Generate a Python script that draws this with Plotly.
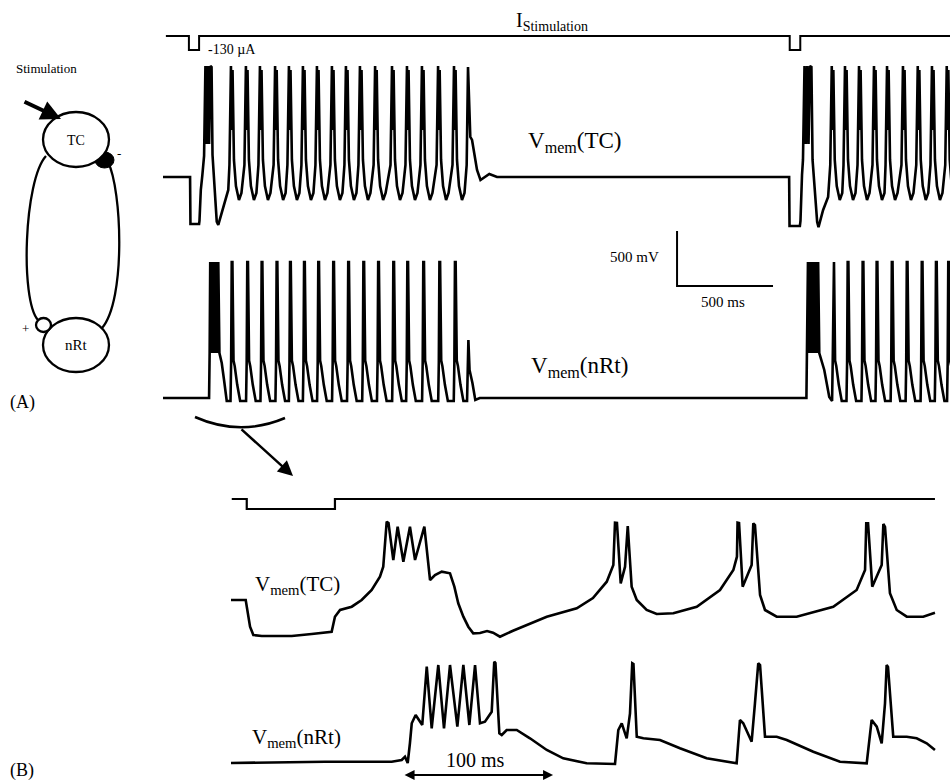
import plotly.graph_objects as go

W, H = 950, 783
FONT = "Liberation Serif"

# ================= DATA =================
# ---- Panel A: time in ms, membrane voltage in mV, current in µA ----
STIM_A_T = [15, 135, 135, 188, 188, 3265, 3265, 3320, 3320, 4100]
STIM_A_I = [0, 0, -130, -130, 0, 0, -130, -130, 0, 0]

# TC, first stimulation event
TC_A_ON1_T = [0, 141, 143, 188, 190, 197, 205, 214]
TC_A_ON1_V = [0, 0, -427, -427, -400, -118, 18, 191]
TC_A_BURST1_T = [221, 227, 234, 240, 247, 253]
TC_A_BURST1_V = [1009, 300, 1009, 300, 1009, 1000]
TC_A_AFT1_T = [258, 280, 288, 314, 340]
TC_A_AFT1_V = [200, -406, -436, -270, -118]
TC_A_SPIKES1 = [354, 432, 505, 584, 656, 729, 802, 880, 953, 1026,
                1105, 1193, 1271, 1349, 1433, 1516]
TC_A_END1_T = [1582, 1589, 1601, 1610, 1636, 1654, 1700, 1740, 3262]
TC_A_END1_V = [109, 1000, 364, 337, 64, -27, 27, 0, 0]
# TC, second stimulation event
TC_A_ON2_T = [3264, 3318, 3321, 3329, 3334]
TC_A_ON2_V = [-445, -445, -400, 18, 155]
TC_A_BURST2_T = [3342, 3349, 3356, 3363, 3370, 3378]
TC_A_BURST2_V = [1009, 300, 1009, 300, 1009, 1000]
TC_A_AFT2_T = [3384, 3408, 3415, 3439, 3465]
TC_A_AFT2_V = [155, -409, -455, -300, -182]
TC_A_SPIKES2 = [3484, 3553, 3626, 3704, 3772, 3855, 3932, 4006, 4083]
# shape of one TC doublet (offset ms, mV)
TC_DOUBLET_DT = [-7.8, 0, 4.2, 8.3, 15.6, 26, 41.7, 54.7]
TC_DOUBLET_DV = [109, 1009, 427, 973, 155, -82, -209, -145]

# nRt, first event
NRT_A_ON1_T = [0, 240, 243]
NRT_A_ON1_V = [0, 0, 409]
NRT_A_BURST1_T = [246, 251, 257, 262, 267, 272, 278, 283, 288]
NRT_A_BURST1_V = [1236, 409, 1236, 409, 1236, 409, 1236, 409, 1236]
NRT_A_AFT1_T = [294, 306, 318, 332]
NRT_A_AFT1_V = [409, 318, 164, -27]
NRT_A_SPIKES1 = [358, 439, 514, 592, 662, 735, 809, 887, 965, 1044,
                 1121, 1200, 1273, 1356, 1440, 1521]
NRT_A_END1_T = [1584, 1588, 1591, 1597, 1612, 1627, 1650, 3352]
NRT_A_END1_V = [-27, 200, 527, 255, 136, -18, 0, 0]
# nRt, second event
NRT_A_ON2_T = [3355]
NRT_A_ON2_V = [409]
NRT_A_BURST2_T = [3360, 3365, 3371, 3376, 3381, 3386, 3392, 3397, 3402, 3407, 3413]
NRT_A_BURST2_V = [1236, 409, 1236, 409, 1236, 409, 1236, 409, 1236, 409, 1236]
NRT_A_AFT2_T = [3419, 3445, 3471]
NRT_A_AFT2_V = [409, 255, 9]
NRT_A_SPIKES2 = [3492, 3567, 3645, 3718, 3797, 3875, 3953, 4027, 4091]
NRT_SPIKE_DT = [-6.3, -3.1, 0, 3.6, 9.4, 15.6, 28.7, 44]
NRT_SPIKE_DV = [-27, 320, 1236, 1236, 340, 290, 120, -27]

# scale bar (ms, mV)
SCALE_T0, SCALE_V0 = 2678, 1018
SCALE_DT, SCALE_DV = 500, 500

# ---- Panel B (zoom of the first event) ----
STIM_B_T = [0.5, 10.5, 10.5, 69.3, 69.3, 469.3]
STIM_B_I = [0, 0, -130, -130, 0, 0]

TC_B_T = [0, 9.8, 12.7, 14.9, 20.5, 40.5, 53.8, 67.1, 69.3, 72.7, 80.5, 87.1,
          93.8, 99.3, 101.5, 103.8, 105, 108.2, 111.1, 114.9, 119.3, 122.7,
          128.9, 132.7, 136, 140.5, 146, 148.9, 151.5, 154.9, 158.2, 161.5,
          166, 170.7, 174.7, 179.3, 188, 210.5, 230.5, 241.3, 250.5, 254.9,
          256, 257.3, 259.8, 262.7, 264.5, 267.1, 270.5, 277.1, 283.8, 294.9,
          310.5, 326, 334.9, 337.3, 337.7, 338.7, 341.1, 347.1, 348.2, 349.3,
          352.7, 356, 363.8, 377.1, 401.5, 417.1, 422.7, 423.5, 424.7, 427.5,
          433.8, 434.9, 436, 439.3, 443.8, 450.5, 461.5, 469.3]
TC_B_V = [10, 10, -257, -340, -350, -350, -330, -307, -157, -90, -57, 10,
          110, 243, 343, 793, 780, 410, 743, 393, 743, 410,
          743, 210, 260, 293, 277, 143, -23, -157, -257, -323,
          -320, -300, -317, -357, -297, -157, -73, 30, 193, 360,
          783, 780, 177, 343, 750, 143, 10, -90, -130, -123,
          -57, 110, 310, 443, 783, 780, 143, 360, 777, 760,
          60, -90, -157, -157, -57, 110, 310, 777, 777, 143,
          360, 770, 740, 77, -90, -157, -157, -117]

NRT_B_T = [0, 62.7, 107.1, 113.8, 116, 117.8, 119.3, 120.5, 123.1, 125.3, 127.5,
           130.5, 133.8, 138.2, 142, 146, 150.9, 154.9, 158.9, 162.7, 166,
           169.3, 173.8, 175.5, 176.3, 178.9, 180.5, 183.8, 190.5, 199.3,
           210.5, 221.5, 237.1, 256, 257.1, 258.2, 260.5, 263.8, 266, 267.5,
           268.3, 270.5, 274.9, 286, 299.3, 317.1, 337.1, 339.3, 341.5, 347.1,
           349.3, 351.5, 352.7, 356, 363.8, 370.5, 388.2, 406, 423.8, 427.1,
           430.5, 433.8, 436, 437.1, 438, 441.5, 450.5, 457.1, 463.8, 469.3]
NRT_B_V = [0, 13, 13, 30, 63, 0, 200, 397, 480, 430, 380,
           963, 347, 980, 347, 980, 363, 980, 380, 980, 397,
           413, 513, 1013, 1000, 297, 280, 330, 330, 247,
           130, 47, -3, -10, 163, 330, 397, 247, 497, 997,
           990, 263, 247, 230, 147, 47, -3, 430, 397, 213,
           597, 997, 980, 263, 263, 230, 113, 13, -3, 430,
           363, 197, 597, 980, 960, 263, 263, 247, 197, 130]

ARROW_100MS_T = [114.7, 214.7]
ARROW_100MS_V = -120

# ================= BUILD =================
def train(times, dt, dv):
    xs, ys = [], []
    for t in times:
        xs += [t + d for d in dt]
        ys += list(dv)
    return xs, ys

def cat(*parts):
    xs, ys = [], []
    for px, py in parts:
        xs += list(px)
        ys += list(py)
    return xs, ys

tcA_x, tcA_y = cat((TC_A_ON1_T, TC_A_ON1_V), (TC_A_BURST1_T, TC_A_BURST1_V),
                   (TC_A_AFT1_T, TC_A_AFT1_V),
                   train(TC_A_SPIKES1, TC_DOUBLET_DT, TC_DOUBLET_DV),
                   (TC_A_END1_T, TC_A_END1_V), (TC_A_ON2_T, TC_A_ON2_V),
                   (TC_A_BURST2_T, TC_A_BURST2_V), (TC_A_AFT2_T, TC_A_AFT2_V),
                   train(TC_A_SPIKES2, TC_DOUBLET_DT, TC_DOUBLET_DV))
nrA_x, nrA_y = cat((NRT_A_ON1_T, NRT_A_ON1_V), (NRT_A_BURST1_T, NRT_A_BURST1_V),
                   (NRT_A_AFT1_T, NRT_A_AFT1_V),
                   train(NRT_A_SPIKES1, NRT_SPIKE_DT, NRT_SPIKE_DV),
                   (NRT_A_END1_T, NRT_A_END1_V), (NRT_A_ON2_T, NRT_A_ON2_V),
                   (NRT_A_BURST2_T, NRT_A_BURST2_V), (NRT_A_AFT2_T, NRT_A_AFT2_V),
                   train(NRT_A_SPIKES2, NRT_SPIKE_DT, NRT_SPIKE_DV))

LW = 2.6
def line(x, y, xa, ya, w=LW):
    return go.Scatter(x=x, y=y, xaxis=xa, yaxis=ya, mode="lines",
                      line=dict(color="black", width=w), hoverinfo="skip",
                      showlegend=False)

fig = go.Figure()
fig.add_trace(line(STIM_A_T, STIM_A_I, "x", "y", 2))
fig.add_trace(line(tcA_x, tcA_y, "x", "y2"))
fig.add_trace(line(nrA_x, nrA_y, "x", "y3"))
fig.add_trace(line([SCALE_T0, SCALE_T0, SCALE_T0 + SCALE_DT],
                   [SCALE_V0 + SCALE_DV, SCALE_V0, SCALE_V0], "x", "y3", 2))
fig.add_trace(line(STIM_B_T, STIM_B_I, "x2", "y4", 2.2))
fig.add_trace(line(TC_B_T, TC_B_V, "x2", "y5"))
fig.add_trace(line(NRT_B_T, NRT_B_V, "x2", "y6"))

def ydom(py_top, py_bot, py_ref, per_px):
    return dict(domain=[1 - py_bot / H, 1 - py_top / H],
                range=[(py_ref - py_bot) * per_px, (py_ref - py_top) * per_px])

hid = dict(visible=False, fixedrange=True)
mv_px = 500 / 55.0
fig.update_layout(
    width=W, height=H, margin=dict(l=0, r=0, t=0, b=0),
    paper_bgcolor="white", plot_bgcolor="rgba(0,0,0,0)",
    font=dict(family=FONT, color="black"),
    xaxis=dict(domain=[163 / W, 1], range=[0, 4100], anchor="y", **hid),
    yaxis=dict(**ydom(28, 58, 36, 130 / 14.0), anchor="x", **hid),
    yaxis2=dict(**ydom(58, 240, 177, mv_px), anchor="x", **hid),
    yaxis3=dict(**ydom(225, 415, 398, mv_px), anchor="x", **hid),
    xaxis2=dict(domain=[225 / W, 945 / W], range=[-4, 476], anchor="y4", **hid),
    yaxis4=dict(**ydom(488, 515, 499, 13.0), anchor="x2", **hid),
    yaxis5=dict(**ydom(508, 648, 601, 10.0), anchor="x2", **hid),
    yaxis6=dict(**ydom(648, 783, 763, 10.0), anchor="x2", **hid),
    xaxis3=dict(domain=[0, 1], range=[0, W], anchor="y7", **hid),
    yaxis7=dict(domain=[0, 1], range=[H, 0], anchor="x3", **hid),
)

# ---- decorations (circuit diagram, bracket) in pixel-like axis x3/y7 ----
D = dict(xref="x3", yref="y7")
blk = dict(color="black", width=2.3)
shapes = [
    dict(type="path", path="M 46 156 C 24 180, 20 300, 38 320", line=blk, **D),
    dict(type="path", path="M 108 162 C 122 190, 126 300, 102 328", line=blk, **D),
    dict(type="circle", x0=95, x1=114, y0=152, y1=168, fillcolor="black",
         line=dict(color="black", width=1), **D),
    dict(type="circle", x0=43, x1=109, y0=112, y1=167, fillcolor="white", line=blk, **D),
    dict(type="circle", x0=43, x1=109, y0=318, y1=372, fillcolor="white", line=blk, **D),
    dict(type="circle", x0=36, x1=51, y0=318, y1=332, fillcolor="white", line=blk, **D),
    dict(type="path", path="M 195 417 Q 240 437 285 418",
         line=dict(color="black", width=2.5), **D),
]
fig.update_layout(shapes=shapes)

def txt(x, y, s, size, xanchor="center"):
    return dict(x=x, y=y, xref="x3", yref="y7", text=s, showarrow=False,
                xanchor=xanchor, yanchor="middle",
                font=dict(family=FONT, size=size, color="black"))

ann = [
    txt(46, 68, "Stimulation", 13),
    txt(76, 140, "TC", 14),
    txt(119, 153, "-", 13),
    txt(25, 328, "+", 13),
    txt(76, 345, "nRt", 15),
    txt(8, 402, "(A)", 18, "left"),
    txt(8, 770, "(B)", 18, "left"),
    txt(514, 21, "I<sub>Stimulation</sub>", 20, "left"),
    txt(206, 49, "-130 µA", 14, "left"),
    txt(526, 142, "V<sub>mem</sub>(TC)", 23, "left"),
    txt(529, 367, "V<sub>mem</sub>(nRt)", 23, "left"),
    txt(634, 257, "500 mV", 15),
    txt(723, 302, "500 ms", 15),
    txt(253, 585, "V<sub>mem</sub>(TC)", 21, "left"),
    txt(250, 738, "V<sub>mem</sub>(nRt)", 21, "left"),
    txt(475, 760, "100 ms", 20),
    # stimulation arrow in diagram
    dict(x=61, y=119, ax=23, ay=101, xref="x3", yref="y7", axref="x3", ayref="y7",
         text="", showarrow=True, arrowhead=2, arrowsize=1, arrowwidth=4,
         arrowcolor="black"),
    # zoom arrow
    dict(x=293, y=476, ax=240, ay=428, xref="x3", yref="y7", axref="x3", ayref="y7",
         text="", showarrow=True, arrowhead=2, arrowsize=1.2, arrowwidth=2.5,
         arrowcolor="black"),
    # 100 ms double arrow
    dict(x=ARROW_100MS_T[1], y=ARROW_100MS_V, ax=ARROW_100MS_T[0], ay=ARROW_100MS_V,
         xref="x2", yref="y6", axref="x2", ayref="y6", text="", showarrow=True,
         arrowhead=2, startarrowhead=2, arrowside="end+start", arrowsize=1,
         arrowwidth=2, arrowcolor="black"),
]
fig.update_layout(annotations=ann)

fig.write_html("out.html", config={"displayModeBar": False},
               post_script="document.body.style.margin='0';")
